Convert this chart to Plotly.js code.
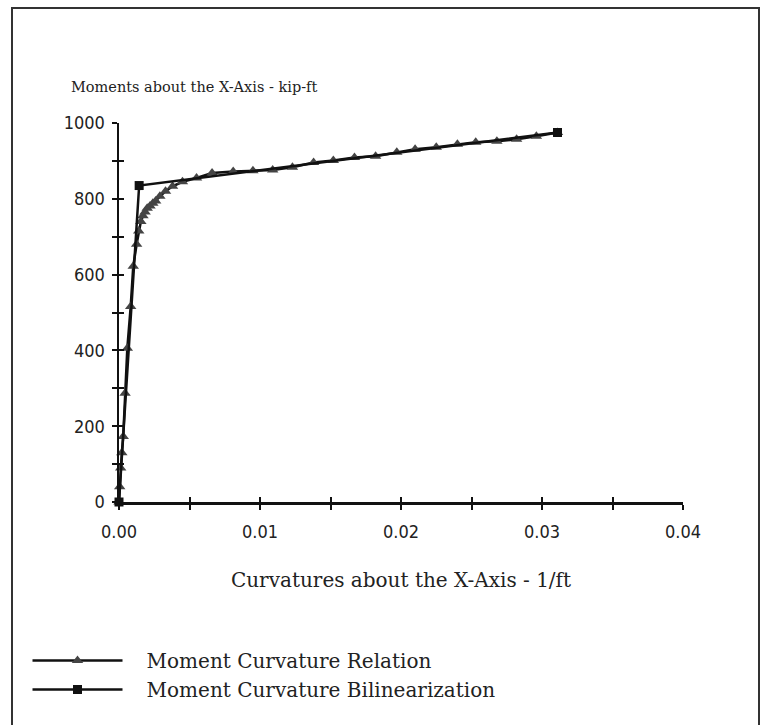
<!DOCTYPE html>
<html>
<head>
<meta charset="utf-8">
<script src="https://cdn.plot.ly/plotly-3.0.1.min.js"></script>
<style>html,body{margin:0;padding:0;background:#fff;}#chart{width:765px;height:725px;}</style>
</head>
<body>
<div id="chart"></div>
<script>
// Moment-curvature relation (curvature 1/ft, moment kip-ft)
const relationCurvature = [0, 0.00005, 0.00012, 0.0002, 0.0003, 0.00043, 0.00059, 0.00083, 0.00101, 0.00125, 0.0014, 0.00155, 0.0017, 0.00185, 0.002, 0.0022, 0.0024, 0.0026, 0.0029, 0.0033, 0.0038, 0.0045, 0.0055, 0.0066, 0.0081, 0.0095, 0.0109, 0.0123, 0.0138, 0.0152, 0.0167, 0.0182, 0.0197, 0.0210, 0.0225, 0.0240, 0.0253, 0.0268, 0.0282, 0.0296, 0.0311];
const relationMoment    = [0, 40, 90, 130, 173, 287, 406, 516, 622, 680, 715, 740, 755, 765, 775, 781, 788, 794, 807, 820, 833, 845, 855, 868, 872, 874, 876, 883, 896, 901, 909, 912, 923, 931, 936, 944, 949, 952, 957, 965, 975];
// Bilinearization
const bilinCurvature = [0, 0.00143, 0.0311];
const bilinMoment    = [0, 835, 975];

const xTickVals = [0, 0.005, 0.01, 0.015, 0.02, 0.025, 0.03, 0.035, 0.04];
const xTickText = ["0.00", "", "0.01", "", "0.02", "", "0.03", "", "0.04"];
const yTickVals = [0, 100, 200, 300, 400, 500, 600, 700, 800, 900, 1000];
const yTickText = ["0", "", "200", "", "400", "", "600", "", "800", "", "1000"];

const serif = "DejaVu Serif, Liberation Serif, serif";
const narrow = "DejaVu Sans Condensed, Liberation Sans Narrow, DejaVu Sans, sans-serif";
const pad = "\u00a0\u00a0\u00a0";

const traces = [
  {
    x: relationCurvature, y: relationMoment, type: "scatter", mode: "lines+markers",
    name: pad + "Moment Curvature Relation",
    line: {color: "#111", width: 2.5},
    marker: {symbol: "triangle-up", size: 10, color: "#444", line: {width: 0}},
    cliponaxis: false
  },
  {
    x: bilinCurvature, y: bilinMoment, type: "scatter", mode: "lines+markers",
    name: pad + "Moment Curvature Bilinearization",
    line: {color: "#111", width: 2.5},
    marker: {symbol: "square", size: 9, color: "#111"},
    cliponaxis: false
  },
  // invisible trace on the overlay axes so the inner half of each tick is drawn
  {x: [0], y: [0], xaxis: "x2", yaxis: "y2", mode: "markers", marker: {opacity: 0}, showlegend: false, hoverinfo: "skip"}
];

const axisCommon = {
  showgrid: false, zeroline: false, showline: true, linecolor: "#111", linewidth: 2.5,
  ticks: "outside", ticklen: 5, tickwidth: 2, tickcolor: "#111",
  tickmode: "array", tickfont: {family: narrow, size: 18, color: "#222"}
};

const layout = {
  width: 765, height: 725,
  paper_bgcolor: "#fff", plot_bgcolor: "#fff",
  margin: {l: 119, r: 82, t: 123, b: 223},
  showlegend: true,
  legend: {
    x: (27.5 - 119) / 564, y: (502 - 641) / 379, xanchor: "left", yanchor: "top",
    font: {family: serif, size: 20, color: "#222"},
    itemwidth: 90, tracegroupgap: 0, bgcolor: "rgba(0,0,0,0)"
  },
  xaxis: Object.assign({}, axisCommon, {
    range: [0, 0.04], tickvals: xTickVals, ticktext: xTickText,
    ticklabelstandoff: 7,
    title: {text: "Curvatures about the X-Axis - 1/ft", font: {family: serif, size: 20, color: "#222"}, standoff: 32}
  }),
  yaxis: Object.assign({}, axisCommon, {
    range: [0, 1000], tickvals: yTickVals, ticktext: yTickText,
    ticklabelstandoff: 3
  }),
  xaxis2: {overlaying: "x", range: [0, 0.04], tickmode: "array", tickvals: xTickVals, ticks: "inside", ticklen: 5, tickwidth: 2, tickcolor: "#111", showticklabels: false, showgrid: false, zeroline: false, showline: false},
  yaxis2: {overlaying: "y", range: [0, 1000], tickmode: "array", tickvals: yTickVals, ticks: "inside", ticklen: 5, tickwidth: 2, tickcolor: "#111", showticklabels: false, showgrid: false, zeroline: false, showline: false},
  annotations: [
    {text: "Moments about the X-Axis - kip-ft", xref: "paper", yref: "paper",
     x: (69 - 119) / 564, y: 1 + (123 - 87) / 379, xanchor: "left", yanchor: "middle",
     showarrow: false, font: {family: serif, size: 14.5, color: "#222"}}
  ],
  shapes: [
    {type: "rect", xref: "paper", yref: "paper", layer: "below",
     x0: -(119 - 12) / 564, x1: 1 + (759 - 683) / 564, y0: -(725 - 502 + 20) / 379, y1: 1 + (123 - 8) / 379,
     line: {color: "#333", width: 2}}
  ]
};

Plotly.newPlot("chart", traces, layout, {displayModeBar: false, staticPlot: true});
</script>
</body>
</html>
